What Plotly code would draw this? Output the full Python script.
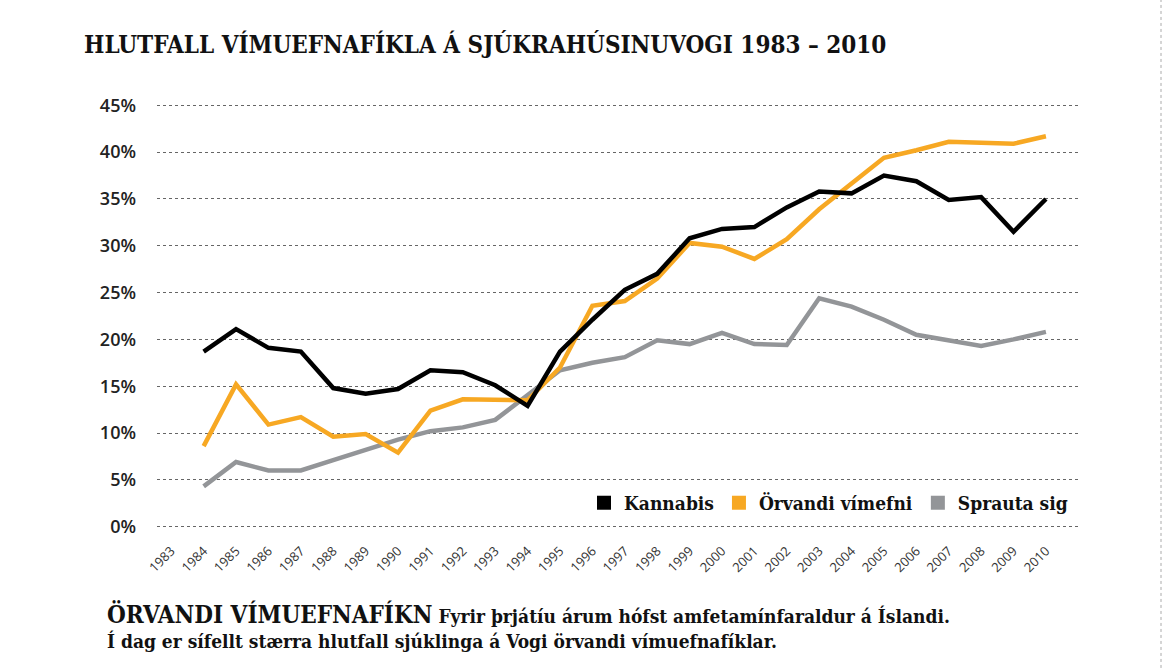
import plotly.graph_objects as go

years = list(range(1984, 2011))
kannabis = [18.7, 21.1, 19.1, 18.7, 14.8, 14.2, 14.7, 16.7, 16.5, 15.1, 12.9,
            18.7, 22.1, 25.3, 27.0, 30.8, 31.8, 32.0, 34.1, 35.8, 35.6, 37.5,
            36.9, 34.9, 35.2, 31.5, 35.0]
orvandi = [8.6, 15.2, 10.9, 11.7, 9.6, 9.9, 7.9, 12.4, 13.6, 13.6, 13.5,
           17.0, 23.6, 24.1, 26.5, 30.3, 29.9, 28.6, 30.7, 33.9, 36.7, 39.4,
           40.2, 41.1, 41.0, 40.9, 41.7]
sprauta = [4.3, 6.9, 6.0, 6.0, 7.1, 8.2, 9.3, 10.2, 10.6, 11.4, 14.0,
           16.7, 17.5, 18.1, 19.9, 19.5, 20.7, 19.5, 19.4, 24.4, 23.5, 22.1,
           20.5, 19.9, 19.3, 20.0, 20.8]
tick_years = list(range(1983, 2011))
y_ticks = [0, 5, 10, 15, 20, 25, 30, 35, 40, 45]
names = ["Kannabis", "Örvandi vímefni", "Sprauta sig"]
colors = ["#000000", "#F7A823", "#939598"]

W, H = 1163, 668
L, R = 157, 1078
T, B = 96.3, 536.1

fig = go.Figure()
for vals, col in zip([sprauta, orvandi, kannabis], [colors[2], colors[1], colors[0]]):
    fig.add_trace(go.Scatter(x=years, y=vals, mode="lines",
                             line=dict(color=col, width=4.5), showlegend=False,
                             hoverinfo="skip"))
for n, c in zip(names, colors):
    fig.add_trace(go.Scatter(x=[None], y=[None], mode="markers", name=n,
                             marker=dict(symbol="square", size=14, color=c)))

serif = "DejaVu Serif Condensed, DejaVu Serif, serif"

fig.update_layout(
    width=W, height=H,
    margin=dict(l=L, r=W - R, t=T, b=H - B, pad=0, autoexpand=False),
    paper_bgcolor="white", plot_bgcolor="white",
    title=dict(text="<b>HLUTFALL VÍMUEFNAFÍKLA Á SJÚKRAHÚSINUVOGI 1983 – 2010</b>",
               x=84 / W, xanchor="left", y=1 - 45 / H, yanchor="middle",
               font=dict(family=serif, size=24, color="#111")),
    xaxis=dict(range=[1982.56, 2010.99], tickmode="array", tickvals=tick_years,
               ticktext=[str(y) for y in tick_years], tickangle=-45,
               showgrid=False, zeroline=False, showline=False,
               tickfont=dict(family="Open Sans", size=13, color="#333"),
               ticks="", ticklabelstandoff=4),
    yaxis=dict(range=[-1, 46], tickmode="array", tickvals=y_ticks,
               ticktext=[f"{v}%" for v in y_ticks], showgrid=True,
               gridcolor="#666", griddash="dot", gridwidth=1, zeroline=False,
               showline=False, ticks="",
               tickfont=dict(family="Open Sans", size=18, color="#222", weight=600),
               ticklabelstandoff=20),
    legend=dict(orientation="h", x=(1073 - L) / (R - L), xref="paper", xanchor="right",
                y=(B - 503) / (B - T), yref="paper", yanchor="middle",
                font=dict(family=serif, size=19, color="#111", weight="bold"),
                bgcolor="rgba(0,0,0,0)", itemwidth=30, tracegroupgap=0),
    font=dict(family="Open Sans"),
    showlegend=True,
)

fig.add_annotation(
    xref="paper", yref="paper", x=(105 - L) / (R - L), y=(B - 598) / (B - T),
    xanchor="left", yanchor="top", align="left", showarrow=False,
    text=("<b><span style='font-size:24px'>ÖRVANDI VÍMUEFNAFÍKN</span> "
          "Fyrir þrjátíu árum hófst amfetamínfaraldur á Íslandi.<br>"
          "Í dag er sífellt stærra hlutfall sjúklinga á Vogi örvandi vímuefnafíklar.</b>"),
    font=dict(family=serif, size=19, color="#111"),
)

fig.add_shape(type="line", xref="paper", yref="paper",
              x0=(1161 - L) / (R - L), x1=(1161 - L) / (R - L),
              y0=(B - H) / (B - T), y1=B / (B - T),
              line=dict(color="#aaa", width=1, dash="dot"))

fig.write_html("out.html", config={"displayModeBar": False},
               post_script="document.body.style.margin='0';document.body.style.padding='0';")
